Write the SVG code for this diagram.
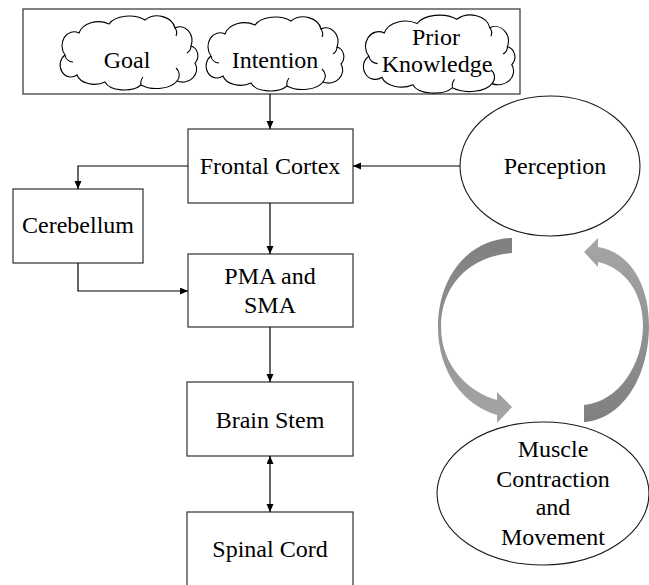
<svg xmlns="http://www.w3.org/2000/svg" xmlns:xlink="http://www.w3.org/1999/xlink" width="649" height="585" viewBox="0 0 649 585">
  <style>
    .box { fill: #ffffff; stroke: #404040; stroke-width: 1.3; }
    .oval { fill: #ffffff; stroke: #1a1a1a; stroke-width: 1.1; }
    .cloud { fill: #ffffff; stroke: #000000; stroke-width: 1.1; }
    .curl { fill: none; stroke: #000000; stroke-width: 1.1; }
    text { font-family: 'Liberation Serif', 'DejaVu Serif', serif; font-size: 24px; fill: #000000; text-anchor: middle; }
    .link { fill: none; stroke: #000000; stroke-width: 1.2; }
  </style>
  <defs>
    <marker id="head" markerUnits="userSpaceOnUse" markerWidth="9" markerHeight="8" refX="8" refY="3.5" orient="auto-start-reverse">
      <path d="M0,0 L8,3.5 L0,7 Z" fill="#000000"/>
    </marker>
    <linearGradient id="gradDown" x1="0" y1="0" x2="0" y2="1">
      <stop offset="0" stop-color="#7f7f7f"/>
      <stop offset="1" stop-color="#a6a6a6"/>
    </linearGradient>
    <linearGradient id="gradUp" x1="0" y1="0" x2="0" y2="1">
      <stop offset="0" stop-color="#a6a6a6"/>
      <stop offset="1" stop-color="#7f7f7f"/>
    </linearGradient>
    <!-- cloud outline in a 140 x 72 box -->
    <g id="cloudShape">
      <path class="cloud" vector-effect="non-scaling-stroke" d="M 8 40 A 12 14 0 0 1 22 18 A 20 15 0 0 1 52 9 A 22 13 0 0 1 88 5 A 18 15 0 0 1 118 13 A 12 14 0 0 1 134 31 A 9 10 0 0 1 138 48 A 14 13 0 0 1 120 66 A 22 12 0 0 1 84 70 A 20 11 0 0 1 48 67 A 18 12 0 0 1 20 60 A 10 11 0 0 1 8 40 Z"/>
      <path class="curl" vector-effect="non-scaling-stroke" d="M 8 40 A 9 8 0 0 0 16 47 M 118 13 A 8 8 0 0 1 119 21 M 134 31 A 8 8 0 0 1 130 38 M 120 66 A 9 9 0 0 0 119 53 M 84 70 A 10 10 0 0 1 86 62"/>
    </g>
  </defs>

  <!-- motivation frame with the three clouds -->
  <g id="motivation">
    <rect class="box" x="23" y="9" width="497" height="85"/>
    <use xlink:href="#cloudShape" transform="translate(57,15)"/>
    <use xlink:href="#cloudShape" transform="translate(203,16)"/>
    <use xlink:href="#cloudShape" transform="translate(360,14) scale(1.1,1.055)"/>
    <text x="127" y="68" font-family="Liberation Serif, serif">Goal</text>
    <text x="275" y="68" font-family="Liberation Serif, serif">Intention</text>
    <text x="436" y="45" font-family="Liberation Serif, serif">Prior</text>
    <text x="437" y="72" font-family="Liberation Serif, serif">Knowledge</text>
  </g>

  <g id="frontal-cortex">
    <rect class="box" x="188" y="129" width="165" height="74"/>
    <text x="270" y="174" font-family="Liberation Serif, serif">Frontal Cortex</text>
  </g>

  <g id="cerebellum">
    <rect class="box" x="13" y="189" width="130" height="74"/>
    <text x="78" y="233" font-family="Liberation Serif, serif">Cerebellum</text>
  </g>

  <g id="pma-sma">
    <rect class="box" x="188" y="254" width="165" height="73"/>
    <text x="270" y="284" font-family="Liberation Serif, serif">PMA and</text>
    <text x="270" y="313" font-family="Liberation Serif, serif">SMA</text>
  </g>

  <g id="brain-stem">
    <rect class="box" x="187" y="382" width="166" height="74"/>
    <text x="270" y="428" font-family="Liberation Serif, serif">Brain Stem</text>
  </g>

  <g id="spinal-cord">
    <rect class="box" x="187" y="512" width="166" height="80"/>
    <text x="270" y="557" font-family="Liberation Serif, serif">Spinal Cord</text>
  </g>

  <g id="perception">
    <ellipse class="oval" cx="550" cy="166" rx="90" ry="70"/>
    <text x="555" y="174" font-family="Liberation Serif, serif">Perception</text>
  </g>

  <g id="muscle">
    <ellipse class="oval" cx="543" cy="493.5" rx="106" ry="71.5"/>
    <text x="553" y="457" font-family="Liberation Serif, serif">Muscle</text>
    <text x="553" y="487" font-family="Liberation Serif, serif">Contraction</text>
    <text x="553" y="515" font-family="Liberation Serif, serif">and</text>
    <text x="553" y="545" font-family="Liberation Serif, serif">Movement</text>
  </g>

  <!-- feedback loop arrows -->
  <g id="loop">
    <path fill="url(#gradDown)" d="M 512 238 C 470 239, 438 275, 438 327 C 438 370, 462 405, 497 415 L 497 423 L 512 407 L 497 392 L 497 400 C 468 392, 441 365, 441 327 C 441 285, 470 256, 512 253 Z"/>
    <path fill="url(#gradUp)" d="M 584 405 C 618 402, 643 365, 643 325 C 643 293, 625 268, 598 262 L 598 267 L 584 252 L 598 238 L 598 247 C 630 252, 649 285, 649 325 C 649 380, 620 420, 584 422 Z"/>
  </g>

  <g id="connectors">
    <path class="link" d="M 270 94 V 129" marker-end="url(#head)"/>
    <path class="link" d="M 188 166 H 78 V 189" marker-end="url(#head)"/>
    <path class="link" d="M 270 203 V 254" marker-end="url(#head)"/>
    <path class="link" d="M 78 263 V 291 H 188" marker-end="url(#head)"/>
    <path class="link" d="M 460 166 H 353" marker-end="url(#head)"/>
    <path class="link" d="M 270 327 V 382" marker-end="url(#head)"/>
    <path class="link" d="M 270 456 V 512" marker-start="url(#head)" marker-end="url(#head)"/>
  </g>
</svg>
